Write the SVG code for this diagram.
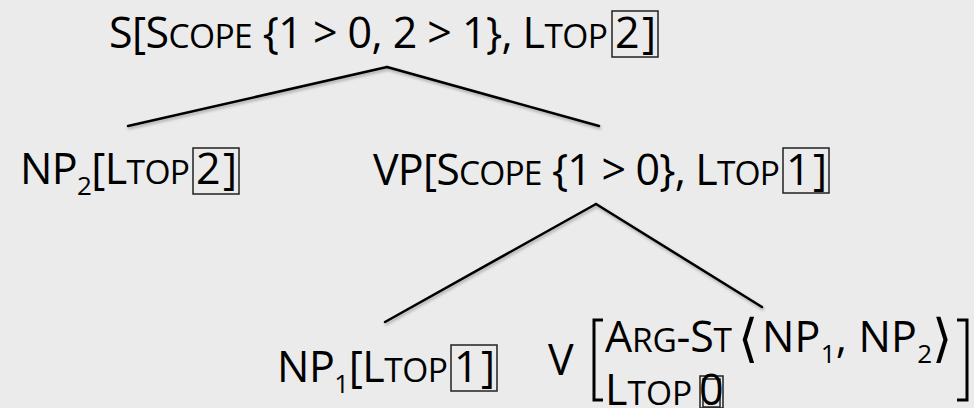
<svg xmlns="http://www.w3.org/2000/svg" width="974" height="408" viewBox="0 0 974 408">
<defs>
<style>
.t{font-family:"Open Sans","Liberation Sans",sans-serif;font-size:43px;fill:#000}
.sc{font-size:33.5px}
.sub{font-size:26px}
.ang{font-family:"DejaVu Sans",sans-serif;font-size:52px;fill:#000}
.box{fill:none;stroke:#222;stroke-width:1.5}
.edge{stroke:#000;stroke-width:2.5;fill:none;stroke-linecap:round}
.brk{stroke:#000;stroke-width:3;fill:none}
</style>
<filter id="sh" x="-10%" y="-10%" width="120%" height="140%">
<feDropShadow dx="1" dy="2" stdDeviation="1.5" flood-color="#000" flood-opacity="0.3"/>
</filter>
</defs>
<rect width="974" height="408" fill="#ebebeb"/>
<g id="connectors" filter="url(#sh)">
<line class="edge" x1="387" y1="67" x2="128" y2="126"/>
<line class="edge" x1="387" y1="67" x2="599" y2="126"/>
<line class="edge" x1="596" y1="204" x2="385" y2="322"/>
<line class="edge" x1="596" y1="204" x2="762" y2="307"/>
</g>
<g id="node-S">
<text class="t" x="109" y="48" textLength="499" lengthAdjust="spacing">S[S<tspan class="sc">COPE</tspan> {1 &gt; 0, 2 &gt; 1}, L<tspan class="sc">TOP</tspan></text>
<rect class="box" x="612" y="11" width="46" height="46"/>
<text class="t" x="615" y="48">2</text>
<text class="t" x="642" y="48">]</text>
</g>
<g id="node-NP2">
<text class="t" x="20" y="184" textLength="170" lengthAdjust="spacing">NP<tspan class="sub" dy="11">2</tspan><tspan dy="-11">[L</tspan><tspan class="sc">TOP</tspan></text>
<rect class="box" x="193" y="148" width="46" height="46"/>
<text class="t" x="196" y="184">2</text>
<text class="t" x="223" y="184">]</text>
</g>
<g id="node-VP">
<text class="t" x="373" y="185" textLength="407" lengthAdjust="spacing">VP[S<tspan class="sc">COPE</tspan> {1 &gt; 0}, L<tspan class="sc">TOP</tspan></text>
<rect class="box" x="783" y="148" width="46" height="45"/>
<text class="t" x="786" y="185">1</text>
<text class="t" x="813" y="185">]</text>
</g>
<g id="node-NP1">
<text class="t" x="277" y="382" textLength="171" lengthAdjust="spacing">NP<tspan class="sub" dy="11">1</tspan><tspan dy="-11">[L</tspan><tspan class="sc">TOP</tspan></text>
<rect class="box" x="451" y="345" width="46" height="46"/>
<text class="t" x="454" y="382">1</text>
<text class="t" x="481" y="382">]</text>
</g>
<g id="node-V">
<text class="t" x="548" y="375">V</text>
<path class="brk" d="M603,320 H594 V400 H603"/>
<path class="brk" d="M957,320 H967 V400 H957"/>
<text class="t" x="605" y="352" textLength="127" lengthAdjust="spacing">A<tspan class="sc">RG</tspan>-S<tspan class="sc">T</tspan></text>
<text class="ang" x="738" y="356">⟨</text>
<text class="t" x="762" y="352" textLength="170" lengthAdjust="spacing">NP<tspan class="sub" dy="11">1</tspan><tspan dy="-11">, NP</tspan><tspan class="sub" dy="11">2</tspan></text>
<text class="ang" x="932" y="356">⟩</text>
<text class="t" x="605" y="405">L<tspan class="sc">TOP</tspan></text>
<rect class="box" x="700" y="376" width="23" height="32" stroke-width="2"/>
<rect class="box" x="703" y="379" width="17" height="28" stroke-width="1.5"/>
<text class="t" x="699" y="405">0</text>
</g>
</svg>
